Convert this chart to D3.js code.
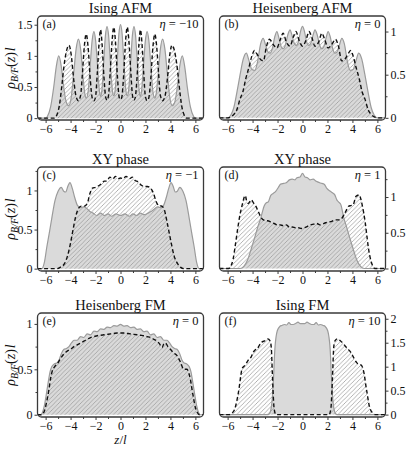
<!DOCTYPE html>
<html>
<head>
<meta charset="utf-8">
<script src="https://cdnjs.cloudflare.com/ajax/libs/d3/7.8.5/d3.min.js"></script>
<style>
  body { margin: 0; background: #fff; }
  svg { display: block; }
  text { font-family: "Liberation Serif", "DejaVu Serif", serif; fill: #111; }
</style>
</head>
<body>
<svg id="chart" width="415" height="450"></svg>
<script>
// ---- data ----
const titles = ['Ising AFM', 'Heisenberg AFM', 'XY phase', 'XY phase', 'Heisenberg FM', 'Ising FM'];
const tags = ['(a)', '(b)', '(c)', '(d)', '(e)', '(f)'];
const etas = ['−10', '0', '−1', '1', '0', '10'];
const xTicks = [-6, -4, -2, 0, 2, 4, 6];
const xMinor = [-5, -3, -1, 1, 3, 5];
const xLimits = [-6.65, 6.65];
const yLimits = [[-0.03, 1.64], [-0.025, 1.18], [-0.03, 1.3], [-0.035, 1.42], [-0.025, 1.12], [-0.05, 2.12]];
const yTicks = [[0, 0.5, 1, 1.5], [0, 0.5, 1], [0, 0.5, 1], [0, 0.5, 1], [0, 0.5, 1], [0, 0.5, 1, 1.5, 2]];

// bosons (grey filled) and fermions (hatched, dashed), [z/l, rho*l]
const bosA = [[-6.65,0],[-6.0,0],[-5.85,0.03],[-5.6,0.18],[-5.35,0.5],[-5.15,0.82],[-4.95,1.0],[-4.75,0.84],[-4.55,0.5],[-4.35,0.26],[-4.15,0.2],[-3.95,0.33],[-3.75,0.72],[-3.55,1.12],[-3.37,1.27],[-3.19,1.1],[-3.0,0.66],[-2.85,0.38],[-2.75,0.32],[-2.6,0.42],[-2.43,0.85],[-2.27,1.25],[-2.13,1.39],[-1.99,1.24],[-1.82,0.78],[-1.68,0.42],[-1.6,0.35],[-1.5,0.43],[-1.36,0.85],[-1.21,1.32],[-1.08,1.47],[-0.95,1.32],[-0.8,0.85],[-0.64,0.43],[-0.54,0.36],[-0.44,0.43],[-0.28,0.86],[-0.13,1.35],[0,1.5],[0.13,1.35],[0.28,0.86],[0.44,0.43],[0.54,0.36],[0.64,0.43],[0.8,0.85],[0.95,1.32],[1.08,1.47],[1.21,1.32],[1.36,0.85],[1.5,0.43],[1.6,0.35],[1.68,0.42],[1.82,0.78],[1.99,1.24],[2.13,1.39],[2.27,1.25],[2.43,0.85],[2.6,0.42],[2.75,0.32],[2.85,0.38],[3.0,0.66],[3.19,1.1],[3.37,1.27],[3.55,1.12],[3.75,0.72],[3.95,0.33],[4.15,0.2],[4.35,0.26],[4.55,0.5],[4.75,0.84],[4.95,1.0],[5.15,0.82],[5.35,0.5],[5.6,0.18],[5.85,0.03],[6.0,0],[6.65,0]];
const ferA = [[-6.65,0],[-5.3,0],[-5.1,0.05],[-4.9,0.2],[-4.7,0.52],[-4.5,0.88],[-4.3,1.1],[-4.12,1.17],[-3.95,1.02],[-3.75,0.62],[-3.55,0.34],[-3.37,0.28],[-3.2,0.36],[-3.05,0.72],[-2.9,1.15],[-2.75,1.35],[-2.6,1.15],[-2.42,0.62],[-2.26,0.32],[-2.13,0.28],[-2.0,0.34],[-1.86,0.72],[-1.72,1.2],[-1.6,1.42],[-1.48,1.2],[-1.32,0.64],[-1.18,0.33],[-1.08,0.29],[-0.97,0.35],[-0.82,0.76],[-0.67,1.25],[-0.54,1.46],[-0.41,1.25],[-0.25,0.68],[-0.1,0.33],[0,0.3],[0.1,0.33],[0.25,0.68],[0.41,1.25],[0.54,1.46],[0.67,1.25],[0.82,0.76],[0.97,0.35],[1.08,0.29],[1.18,0.33],[1.32,0.64],[1.48,1.2],[1.6,1.42],[1.72,1.2],[1.86,0.72],[2.0,0.34],[2.13,0.28],[2.26,0.32],[2.42,0.62],[2.6,1.15],[2.75,1.35],[2.9,1.15],[3.05,0.72],[3.2,0.36],[3.37,0.28],[3.55,0.34],[3.75,0.62],[3.95,1.02],[4.12,1.17],[4.3,1.1],[4.5,0.88],[4.7,0.52],[4.9,0.2],[5.1,0.05],[5.3,0],[6.65,0]];

const bosB = [[-6.65,0],[-6.0,0],[-5.75,0.03],[-5.5,0.12],[-5.25,0.3],[-5.0,0.5],[-4.75,0.68],[-4.5,0.75],[-4.28,0.66],[-4.05,0.56],[-3.82,0.55],[-3.6,0.65],[-3.35,0.86],[-3.15,0.92],[-2.95,0.84],[-2.75,0.76],[-2.6,0.75],[-2.42,0.8],[-2.22,0.94],[-2.05,1.0],[-1.88,0.92],[-1.7,0.82],[-1.55,0.8],[-1.38,0.84],[-1.18,0.96],[-1.0,1.02],[-0.83,0.95],[-0.65,0.86],[-0.5,0.84],[-0.33,0.88],[-0.16,1.0],[0,1.06],[0.16,1.0],[0.33,0.88],[0.5,0.84],[0.65,0.86],[0.83,0.95],[1.0,1.02],[1.18,0.96],[1.38,0.84],[1.55,0.8],[1.7,0.82],[1.88,0.92],[2.05,1.0],[2.22,0.94],[2.42,0.8],[2.6,0.75],[2.75,0.76],[2.95,0.84],[3.15,0.92],[3.35,0.86],[3.6,0.65],[3.82,0.55],[4.05,0.56],[4.28,0.66],[4.5,0.75],[4.75,0.68],[5.0,0.5],[5.25,0.3],[5.5,0.12],[5.75,0.03],[6.0,0],[6.65,0]];
const ferB = [[-6.65,0],[-6.0,0],[-5.75,0.01],[-5.5,0.04],[-5.27,0.09],[-5.0,0.22],[-4.78,0.3],[-4.55,0.45],[-4.3,0.58],[-4.05,0.72],[-3.85,0.78],[-3.65,0.74],[-3.45,0.69],[-3.13,0.66],[-2.9,0.82],[-2.64,0.91],[-2.35,0.85],[-2.05,0.81],[-1.8,0.9],[-1.55,0.98],[-1.3,0.88],[-1.0,0.83],[-0.75,0.93],[-0.52,1.0],[-0.28,0.9],[0,0.83],[0.28,0.9],[0.52,1.0],[0.75,0.93],[1.0,0.83],[1.3,0.88],[1.55,0.98],[1.8,0.9],[2.05,0.81],[2.35,0.85],[2.64,0.91],[2.9,0.82],[3.13,0.66],[3.45,0.69],[3.65,0.74],[3.85,0.78],[4.05,0.72],[4.3,0.58],[4.55,0.45],[4.78,0.3],[5.0,0.22],[5.27,0.09],[5.5,0.04],[5.75,0.01],[6.0,0],[6.65,0]];

const bosC = [[-6.65,0],[-6.3,0],[-6.1,0.08],[-5.9,0.28],[-5.7,0.46],[-5.5,0.65],[-5.25,0.87],[-5.0,0.99],[-4.75,1.04],[-4.55,0.99],[-4.4,0.98],[-4.2,1.06],[-4.05,1.1],[-3.85,1.02],[-3.65,0.9],[-3.45,0.81],[-3.2,0.78],[-2.95,0.79],[-2.7,0.77],[-2.45,0.73],[-2.2,0.71],[-1.9,0.68],[-1.6,0.71],[-1.3,0.68],[-1.0,0.7],[-0.7,0.67],[-0.35,0.7],[0,0.68],[0.35,0.7],[0.7,0.67],[1.0,0.7],[1.3,0.68],[1.6,0.71],[1.9,0.69],[2.2,0.71],[2.45,0.73],[2.7,0.76],[2.95,0.79],[3.2,0.78],[3.45,0.81],[3.65,0.9],[3.85,1.02],[4.05,1.1],[4.2,1.06],[4.4,0.98],[4.55,0.99],[4.75,1.04],[5.0,0.99],[5.25,0.87],[5.5,0.65],[5.7,0.46],[5.9,0.28],[6.1,0.08],[6.3,0],[6.65,0]];
const ferC = [[-6.65,0],[-5.1,0],[-4.8,0.02],[-4.5,0.06],[-4.25,0.16],[-4.0,0.33],[-3.8,0.5],[-3.6,0.66],[-3.4,0.76],[-3.15,0.8],[-2.9,0.8],[-2.65,0.84],[-2.45,0.96],[-2.25,1.03],[-2.0,1.04],[-1.75,1.06],[-1.5,1.09],[-1.3,1.12],[-1.1,1.12],[-0.85,1.17],[-0.6,1.15],[-0.4,1.18],[-0.2,1.15],[0,1.16],[0.2,1.15],[0.45,1.18],[0.7,1.15],[0.95,1.17],[1.15,1.13],[1.4,1.11],[1.65,1.07],[1.9,1.05],[2.15,1.05],[2.4,1.03],[2.65,0.96],[2.85,0.86],[3.05,0.81],[3.3,0.8],[3.5,0.76],[3.7,0.62],[3.9,0.46],[4.1,0.3],[4.3,0.16],[4.55,0.07],[4.8,0.02],[5.1,0],[6.65,0]];

const bosD = [[-6.65,0],[-5.0,0],[-4.7,0.03],[-4.4,0.12],[-4.1,0.28],[-3.8,0.45],[-3.55,0.6],[-3.35,0.7],[-3.2,0.8],[-3.08,0.87],[-2.9,0.92],[-2.75,0.93],[-2.55,1.02],[-2.35,1.05],[-2.15,1.08],[-1.95,1.13],[-1.75,1.18],[-1.5,1.19],[-1.3,1.2],[-1.05,1.24],[-0.82,1.25],[-0.6,1.24],[-0.45,1.27],[-0.2,1.28],[0,1.33],[0.2,1.28],[0.4,1.27],[0.6,1.24],[0.85,1.25],[1.1,1.22],[1.37,1.2],[1.55,1.19],[1.74,1.18],[1.95,1.12],[2.23,1.08],[2.4,1.06],[2.59,1.03],[2.75,0.96],[2.9,0.93],[3.08,0.89],[3.2,0.8],[3.32,0.7],[3.5,0.6],[3.75,0.45],[4.05,0.28],[4.35,0.12],[4.65,0.03],[4.95,0],[6.65,0]];
const ferD = [[-6.65,0],[-5.92,0],[-5.75,0.03],[-5.56,0.13],[-5.38,0.33],[-5.19,0.56],[-5.0,0.76],[-4.83,0.89],[-4.59,1.02],[-4.45,0.93],[-4.34,0.91],[-4.1,0.96],[-3.9,0.91],[-3.73,0.87],[-3.55,0.8],[-3.37,0.73],[-3.13,0.68],[-2.9,0.67],[-2.64,0.66],[-2.45,0.64],[-2.27,0.63],[-2.0,0.61],[-1.79,0.61],[-1.55,0.6],[-1.3,0.61],[-1.05,0.58],[-0.82,0.58],[-0.55,0.57],[-0.33,0.57],[-0.1,0.56],[0.16,0.57],[0.4,0.59],[0.64,0.61],[0.9,0.62],[1.13,0.63],[1.4,0.61],[1.62,0.62],[1.85,0.64],[2.1,0.65],[2.35,0.66],[2.59,0.68],[2.85,0.68],[3.08,0.69],[3.32,0.75],[3.5,0.81],[3.69,0.87],[3.87,0.88],[4.05,0.89],[4.29,1.01],[4.54,1.03],[4.66,0.98],[4.78,0.89],[4.9,0.78],[5.02,0.65],[5.15,0.47],[5.27,0.3],[5.4,0.17],[5.51,0.09],[5.65,0.03],[5.8,0],[6.65,0]];

const bosE = [[-6.65,0],[-6.4,0],[-6.27,0.02],[-6.1,0.1],[-5.95,0.22],[-5.8,0.35],[-5.65,0.47],[-5.5,0.53],[-5.3,0.56],[-5.1,0.57],[-4.93,0.6],[-4.75,0.67],[-4.53,0.72],[-4.33,0.73],[-4.13,0.75],[-3.93,0.79],[-3.73,0.82],[-3.47,0.82],[-3.2,0.86],[-2.95,0.85],[-2.67,0.89],[-2.4,0.88],[-2.13,0.92],[-1.87,0.915],[-1.6,0.945],[-1.33,0.94],[-1.07,0.965],[-0.8,0.96],[-0.53,0.98],[-0.27,0.975],[0,0.995],[0.27,0.975],[0.53,0.98],[0.8,0.96],[1.07,0.965],[1.33,0.94],[1.6,0.945],[1.87,0.915],[2.13,0.92],[2.4,0.88],[2.67,0.89],[2.95,0.85],[3.2,0.86],[3.47,0.82],[3.73,0.82],[3.93,0.79],[4.13,0.75],[4.33,0.73],[4.53,0.72],[4.75,0.67],[4.93,0.6],[5.1,0.57],[5.3,0.56],[5.5,0.53],[5.65,0.47],[5.8,0.35],[5.95,0.22],[6.1,0.1],[6.27,0.02],[6.4,0],[6.65,0]];
const ferE = [[-6.65,0],[-6.35,0],[-6.13,0.03],[-5.95,0.12],[-5.73,0.28],[-5.6,0.4],[-5.47,0.48],[-5.27,0.53],[-5.07,0.56],[-4.8,0.62],[-4.53,0.67],[-4.27,0.7],[-4.0,0.72],[-3.73,0.75],[-3.47,0.77],[-3.2,0.79],[-2.93,0.81],[-2.67,0.83],[-2.4,0.85],[-2.13,0.86],[-1.87,0.87],[-1.6,0.875],[-1.33,0.88],[-1.07,0.885],[-0.8,0.89],[-0.53,0.895],[-0.27,0.9],[0,0.9],[0.27,0.9],[0.53,0.895],[0.8,0.89],[1.07,0.885],[1.33,0.88],[1.6,0.875],[1.87,0.87],[2.13,0.86],[2.4,0.85],[2.67,0.83],[2.93,0.81],[3.13,0.78],[3.33,0.74],[3.47,0.78],[3.6,0.79],[3.8,0.75],[4.0,0.72],[4.27,0.68],[4.53,0.65],[4.8,0.58],[5.07,0.5],[5.33,0.5],[5.47,0.46],[5.6,0.39],[5.73,0.28],[5.87,0.17],[6.0,0.08],[6.13,0.03],[6.35,0],[6.65,0]];

const bosF = [[-6.65,0],[-2.75,0],[-2.62,0.03],[-2.5,0.15],[-2.42,0.34],[-2.36,0.6],[-2.3,0.89],[-2.25,1.2],[-2.2,1.42],[-2.12,1.62],[-2.02,1.75],[-1.82,1.84],[-1.64,1.86],[-1.45,1.88],[-1.27,1.87],[-1.09,1.92],[-0.91,1.88],[-0.73,1.88],[-0.55,1.9],[-0.36,1.93],[-0.18,1.9],[0,1.9],[0.18,1.9],[0.36,1.93],[0.55,1.9],[0.73,1.88],[0.91,1.88],[1.09,1.92],[1.27,1.87],[1.45,1.88],[1.64,1.86],[1.82,1.84],[2.02,1.75],[2.12,1.62],[2.2,1.42],[2.25,1.2],[2.3,0.89],[2.36,0.6],[2.42,0.34],[2.5,0.15],[2.62,0.03],[2.75,0],[6.65,0]];
const ferF = [[-6.65,0],[-5.85,0],[-5.65,0.03],[-5.45,0.1],[-5.25,0.3],[-5.08,0.55],[-4.95,0.8],[-4.84,0.96],[-4.6,1.03],[-4.36,1.13],[-4.12,1.2],[-3.95,1.3],[-3.8,1.35],[-3.63,1.37],[-3.45,1.45],[-3.27,1.51],[-3.03,1.54],[-2.78,1.58],[-2.6,1.54],[-2.5,1.4],[-2.42,0.89],[-2.36,0.5],[-2.3,0.2],[-2.22,0.05],[-2.15,0],[2.15,0],[2.22,0.05],[2.3,0.2],[2.36,0.5],[2.42,0.89],[2.5,1.4],[2.6,1.54],[2.78,1.58],[3.03,1.54],[3.27,1.48],[3.45,1.42],[3.63,1.37],[3.87,1.3],[4.12,1.18],[4.3,1.1],[4.43,1.06],[4.72,1.03],[4.85,0.95],[4.96,0.82],[5.08,0.6],[5.2,0.41],[5.32,0.22],[5.45,0.1],[5.65,0.03],[5.85,0],[6.65,0]];

const bosons = [bosA, bosB, bosC, bosD, bosE, bosF];
const fermions = [ferA, ferB, ferC, ferD, ferE, ferF];

// ---- layout ----
const colX = [37.5, 219.5];
const rowY = [16, 167, 313];
const PW = 166, PH = 104;

const svg = d3.select('#chart');
const defs = svg.append('defs');

// diagonal hatch for the fermion density
defs.append('pattern')
  .attr('id', 'hatch')
  .attr('patternUnits', 'userSpaceOnUse')
  .attr('width', 4.4)
  .attr('height', 4.4)
  .append('path')
  .attr('d', 'M-1,1 l2,-2 M0,4.4 l4.4,-4.4 M3.4,5.4 l2,-2')
  .attr('stroke', '#9a9a9a')
  .attr('stroke-width', 0.75);

const serif = '"Liberation Serif", "DejaVu Serif", serif';

titles.forEach((title, i) => {
  const col = i % 2, row = Math.floor(i / 2);
  const x0 = colX[col], y0 = rowY[row];

  const x = d3.scaleLinear().domain(xLimits).range([x0, x0 + PW]);
  const y = d3.scaleLinear().domain(yLimits[i]).range([y0 + PH, y0]);

  const g = svg.append('g');

  defs.append('clipPath').attr('id', 'clip' + i)
    .append('rect')
    .attr('x', x0).attr('y', y0).attr('width', PW).attr('height', PH).attr('rx', 4);

  const plot = g.append('g').attr('clip-path', `url(#clip${i})`);

  const area = d3.area().x(d => x(d[0])).y0(y(0)).y1(d => y(d[1])).curve(d3.curveMonotoneX);
  const line = d3.line().x(d => x(d[0])).y(d => y(d[1])).curve(d3.curveMonotoneX);

  // bosons
  plot.append('path').datum(bosons[i])
    .attr('d', area).attr('fill', '#dadada');
  plot.append('path').datum(bosons[i])
    .attr('d', line).attr('fill', 'none').attr('stroke', '#9b9b9b').attr('stroke-width', 1.2);

  // fermions
  plot.append('path').datum(fermions[i])
    .attr('d', area).attr('fill', 'url(#hatch)');
  plot.append('path').datum(fermions[i])
    .attr('d', line).attr('fill', 'none').attr('stroke', '#111')
    .attr('stroke-width', 1.4).attr('stroke-dasharray', '4,2.6');

  // frame
  g.append('rect')
    .attr('x', x0).attr('y', y0).attr('width', PW).attr('height', PH).attr('rx', 4)
    .attr('fill', 'none').attr('stroke', '#3a3a3a').attr('stroke-width', 1.3);

  // x axis
  g.append('g').attr('transform', `translate(0,${y0 + PH})`)
    .call(d3.axisBottom(x).tickValues(xTicks).tickSize(3).tickPadding(1.5).tickFormat(d3.format('d')));
  g.append('g').attr('transform', `translate(0,${y0 + PH})`)
    .call(d3.axisBottom(x).tickValues(xMinor).tickSize(2).tickFormat(''));

  // y axis
  const hi = yLimits[i][1];
  const minor = d3.range(0, hi, 0.25).filter(v => !yTicks[i].includes(v));
  const yAxisFn = col === 0 ? d3.axisLeft : d3.axisRight;
  const yPos = col === 0 ? x0 : x0 + PW;
  g.append('g').attr('transform', `translate(${yPos},0)`)
    .call(yAxisFn(y).tickValues(yTicks[i]).tickSize(3).tickPadding(2).tickFormat(d => String(d)));
  g.append('g').attr('transform', `translate(${yPos},0)`)
    .call(yAxisFn(y).tickValues(minor).tickSize(2).tickFormat(''));

  g.selectAll('.domain').remove();
  g.selectAll('.tick line').attr('stroke', '#3a3a3a');
  g.selectAll('.tick text').attr('font-family', serif).attr('font-size', 12).attr('fill', '#111');

  // title and annotations
  g.append('text')
    .attr('x', x0 + PW / 2).attr('y', y0 - 3)
    .attr('text-anchor', 'middle').attr('font-size', 14.5)
    .text(title);

  g.append('text')
    .attr('x', x0 + 5).attr('y', y0 + 12)
    .attr('font-size', 12)
    .text(tags[i]);

  const eta = g.append('text')
    .attr('x', x0 + PW - 5).attr('y', y0 + 12)
    .attr('text-anchor', 'end').attr('font-size', 12.5);
  eta.append('tspan').attr('font-style', 'italic').text('η');
  eta.append('tspan').text(' = ' + etas[i]);

  // y label on left column
  if (col === 0) {
    const cy = y0 + PH / 2;
    const t = svg.append('text')
      .attr('transform', `translate(15,${cy}) rotate(-90)`)
      .attr('text-anchor', 'middle').attr('font-size', 14).attr('font-style', 'italic');
    t.append('tspan').text('ρ');
    t.append('tspan').attr('font-size', 10).attr('dy', 3).text('B/F');
    t.append('tspan').attr('dy', -3).attr('font-style', 'normal').text('(');
    t.append('tspan').text('z');
    t.append('tspan').attr('font-style', 'normal').text(')');
    t.append('tspan').attr('dx', 1).text('l');
  }
});

// x label
const xl = svg.append('text')
  .attr('x', colX[0] + PW / 2).attr('y', 444)
  .attr('text-anchor', 'middle').attr('font-size', 13).attr('font-style', 'italic');
xl.append('tspan').text('z');
xl.append('tspan').attr('font-style', 'normal').text('/');
xl.append('tspan').text('l');
</script>
</body>
</html>
